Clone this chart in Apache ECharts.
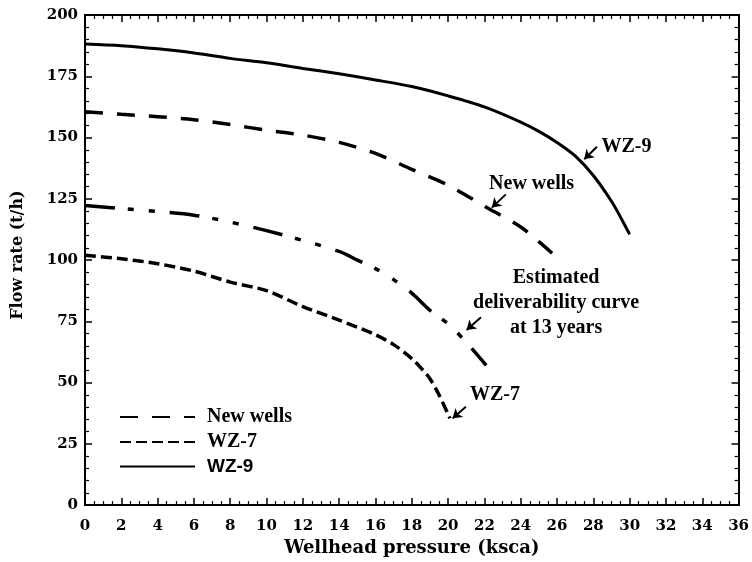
<!DOCTYPE html>
<html>
<head>
<meta charset="utf-8">
<script src="https://cdn.jsdelivr.net/npm/echarts@6/dist/echarts.min.js"></script>
<style>
html,body{margin:0;padding:0;background:#fff;}
#chart{width:752px;height:562px;}
</style>
</head>
<body>
<div id="chart"></div>
<script>
// ---- data ----
const wz9X = [0, 2, 4, 6, 8, 10, 12, 14, 16, 18, 20, 22, 24, 25, 26, 27, 28, 29, 29.5, 30];
const wz9Y = [188.2, 187.5, 186.2, 184.5, 182.3, 180.5, 178.2, 176, 173.5, 170.8, 167, 162.5, 156.3, 152.5, 148, 142.5, 134.5, 124, 117.5, 110.5];

const newX = [0, 2, 4, 6, 8, 10, 12, 14, 16, 18, 20, 22, 24, 25, 26, 26.2];
const newY = [160.5, 159.5, 158.5, 157.3, 155.3, 153, 151, 148, 143.5, 137, 130.5, 122, 113.5, 107.5, 101, 99.5];

const estX = [0, 2, 4, 6, 8, 10, 12, 14, 15, 16, 17, 18, 19, 20, 21, 22.1];
const estY = [122.3, 121, 119.8, 118.3, 115.5, 112, 108, 103.5, 100, 96.5, 92, 86.5, 79.5, 74, 66.5, 57];

const wz7X = [0, 2, 4, 6, 8, 10, 12, 14, 16, 17, 18, 18.5, 19, 19.5, 20.1];
const wz7Y = [102, 100.5, 98.5, 95.5, 91, 87.5, 81, 75.5, 69.5, 65.5, 59.8, 56, 51.6, 45, 35.4];

const seriesNames = ['New wells', 'WZ-7', 'WZ-9', 'Estimated'];

const xTicks = { min: 0, max: 36, step: 2 };
const yTicks = { min: 0, max: 200, step: 25 };

// annotations (data units)
const noteText = ['WZ-9', 'New wells', 'Estimated\ndeliverability curve\nat 13 years', 'WZ-7'];
const notePos = [[28.45, 146.3], [24.6, 131.0], [25.95, 82.5], [21.2, 45.1]];
const noteAlign = ['left', 'center', 'center', 'left'];
const arrowFrom = [[28.2, 146.2], [23.18, 126.8], [21.81, 76.7], [20.98, 40.1]];
const arrowTo = [[27.5, 141.1], [22.41, 121.4], [21.02, 71.5], [20.25, 35.4]];

function zip(xs, ys) { return xs.map((x, i) => [x, ys[i]]); }

const serif = '"Liberation Serif","Times New Roman",serif';
const dserif = '"DejaVu Serif",serif';
const sans = '"Liberation Sans",Arial,sans-serif';

function axisCommon(isX, showLabels, pos) {
  const t = isX ? xTicks : yTicks;
  return {
    type: 'value',
    position: pos,
    min: t.min, max: t.max, interval: t.step,
    axisLine: { show: true, onZero: false, lineStyle: { color: '#000', width: 2 } },
    axisTick: { show: true, inside: true, length: 7, lineStyle: { color: '#000', width: 1.5 } },
    minorTick: { show: true, splitNumber: isX ? 4 : 5, length: 4, lineStyle: { color: '#000', width: 1.2 } },
    splitLine: { show: false },
    minorSplitLine: { show: false },
    axisLabel: {
      show: showLabels, color: '#000', fontFamily: dserif, fontWeight: 'bold', fontSize: 15,
      margin: isX ? 14 : 7
    }
  };
}

const chart = echarts.init(document.getElementById('chart'), null, { renderer: 'canvas' });

const xMain = axisCommon(true, true, 'bottom');
xMain.name = 'Wellhead pressure (ksca)';
xMain.nameLocation = 'middle';
xMain.nameGap = 31;
xMain.nameTextStyle = { color: '#000', fontFamily: dserif, fontWeight: 'bold', fontSize: 18 };

const yMain = axisCommon(false, true, 'left');
yMain.name = 'Flow rate (t/h)';
yMain.nameLocation = 'middle';
yMain.nameGap = 59;
yMain.nameTextStyle = { color: '#000', fontFamily: dserif, fontWeight: 'bold', fontSize: 16, padding: [0, 0, 0, 10] };

const option = {
  backgroundColor: '#fff',
  animation: false,
  grid: { left: 85, right: 12, top: 15, bottom: 55 },
  xAxis: [xMain, axisCommon(true, false, 'top')],
  yAxis: [yMain, axisCommon(false, false, 'right')],
  legend: {
    data: seriesNames.slice(0, 3),
    orient: 'vertical',
    left: 114, top: 402,
    itemWidth: 75, itemHeight: 14, itemGap: 5,
    itemStyle: { opacity: 0 },
    textStyle: {
      fontFamily: serif, fontWeight: 'bold', fontSize: 20, color: '#000', padding: [0, 0, 0, 7],
      rich: { s: { fontFamily: sans, fontWeight: 'bold', fontSize: 19, color: '#000' } }
    },
    formatter: function (name) { return name === 'WZ-9' ? '{s|' + name + '}' : name; }
  },
  series: [
    {
      name: seriesNames[0], type: 'line', data: zip(newX, newY), smooth: 0.3, symbol: 'none',
      lineStyle: { color: '#000', width: 3.5, type: [18, 14] }, itemStyle: { color: '#000' }
    },
    {
      name: seriesNames[1], type: 'line', data: zip(wz7X, wz7Y), smooth: 0.3, symbol: 'none',
      lineStyle: { color: '#000', width: 3.5, type: [11, 5] }, itemStyle: { color: '#000' }
    },
    {
      name: seriesNames[2], type: 'line', data: zip(wz9X, wz9Y), smooth: 0.3, symbol: 'none',
      lineStyle: { color: '#000', width: 3 }, itemStyle: { color: '#000' }
    },
    {
      name: seriesNames[3], type: 'line', data: zip(estX, estY), smooth: 0.3, symbol: 'none',
      lineStyle: { color: '#000', width: 3.5, type: [30, 13, 6, 15, 6, 15] }, itemStyle: { color: '#000' }
    },
    {
      name: 'arrows', type: 'lines', coordinateSystem: 'cartesian2d',
      symbol: ['none', 'arrow'], symbolSize: 9,
      lineStyle: { color: '#000', width: 2, opacity: 1 },
      data: arrowFrom.map((f, i) => ({ coords: [f, arrowTo[i]] })),
      silent: true
    },
    {
      name: 'notes', type: 'scatter', symbolSize: 0, silent: true,
      itemStyle: { opacity: 1, color: '#000' },
      data: notePos.map((p, i) => ({
        value: p, name: noteText[i],
        label: {
          show: true, position: 'inside', formatter: noteText[i],
          align: noteAlign[i], verticalAlign: 'middle', lineHeight: 25,
          fontFamily: serif, fontWeight: 'bold', fontSize: 20, color: '#000', opacity: 1
        }
      }))
    }
  ]
};
chart.setOption(option);
</script>
</body>
</html>
